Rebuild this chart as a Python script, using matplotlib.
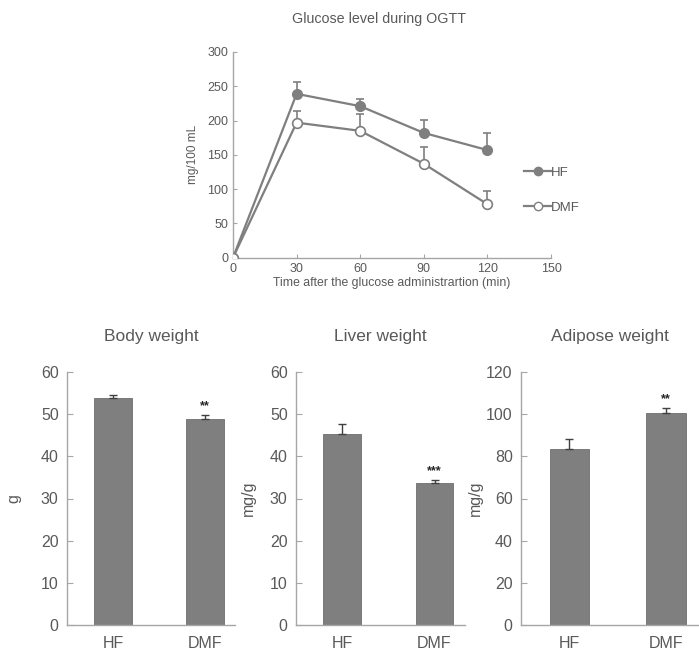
import numpy as np
import matplotlib
matplotlib.use("Agg")
import matplotlib.pyplot as plt
from matplotlib.lines import Line2D

plt.rcParams['font.family'] = ['Liberation Sans', 'DejaVu Sans']

# --- OGTT data ---
time_min = [0, 30, 60, 90, 120]
hf_glucose = [0, 239, 221, 182, 157]
hf_err = [0, 17, 11, 19, 25]
dmf_glucose = [0, 197, 185, 137, 78]
dmf_err = [0, 17, 25, 25, 19]

# --- weight data ---
groups = ["HF", "DMF"]
body_weight = [53.9, 48.8]
body_err = [0.7, 1.1]
liver_weight = [45.2, 33.6]
liver_err = [2.5, 0.8]
adipose_weight = [83.7, 100.4]
adipose_err = [4.6, 2.7]
stars = {"body": "**", "liver": "***", "adipose": "**"}

TXT = '#595959'
AX = '#a6a6a6'
GREY = '#7f7f7f'
W, H = 699, 654


def px_axes(fig, left, top, right, bottom):
    return fig.add_axes([left / W, 1 - bottom / H, (right - left) / W, (bottom - top) / H])


def style(ax):
    for s in ['top', 'right']:
        ax.spines[s].set_visible(False)
    for s in ['left', 'bottom']:
        ax.spines[s].set_color(AX)
        ax.spines[s].set_linewidth(1.0)
    ax.tick_params(colors=AX, labelcolor=TXT, direction='in')


fig = plt.figure(figsize=(W / 100, H / 100), dpi=100)

# ===== OGTT line chart =====
ax = px_axes(fig, 233, 52, 551, 257.7)
style(ax)
ax.errorbar(time_min, hf_glucose, yerr=[np.zeros(5), hf_err], color=GREY, lw=1.6,
            marker='o', ms=7, mfc=GREY, mec=GREY, ecolor=GREY, elinewidth=1.2,
            capsize=3, capthick=1.2, zorder=3)
ax.errorbar(time_min, dmf_glucose, yerr=[np.zeros(5), dmf_err], color=GREY, lw=1.6,
            marker='o', ms=7, mfc='white', mec=GREY, mew=1.2, ecolor=GREY, elinewidth=1.2,
            capsize=3, capthick=1.2, zorder=3)
ax.set_xlim(0, 150)
ax.set_ylim(0, 300)
ax.set_xticks([0, 30, 60, 90, 120, 150])
ax.set_yticks(range(0, 301, 50))
ax.tick_params(axis='both', labelsize=9, length=3)
ax.set_ylabel("mg/100 mL", color=TXT, fontsize=8.5, labelpad=6)
ax.set_xlabel("Time after the glucose administrartion (min)", color=TXT, fontsize=8.8, labelpad=2)
ax.set_title("Glucose level during OGTT", color=TXT, fontsize=10.3, pad=21, x=0.46)

handles = [
    Line2D([], [], color=GREY, lw=1.6, marker='o', ms=6, mfc=GREY, mec=GREY),
    Line2D([], [], color=GREY, lw=1.6, marker='o', ms=6, mfc='white', mec=GREY),
]
leg = ax.legend(handles, ["HF", "DMF"], loc='upper left', bbox_to_anchor=(0.9, 0.47),
                frameon=False, fontsize=9.5, handlelength=2.0, handletextpad=0.0,
                labelspacing=1.75, borderaxespad=0)
for t in leg.get_texts():
    t.set_color(TXT)

# ===== bar charts =====
panels = [
    ("Body weight", "g", body_weight, body_err, stars["body"], 60, 10, (67, 235), 21),
    ("Liver weight", "mg/g", liver_weight, liver_err, stars["liver"], 60, 10, (296, 465), 256),
    ("Adipose weight", "mg/g", adipose_weight, adipose_err, stars["adipose"], 120, 20, (521, 698), 483),
]
for title, ylab, vals, errs, star, ymax, step, (l, r), ylab_x in panels:
    bx = px_axes(fig, l, 372, r, 625)
    style(bx)
    xpos = np.arange(len(groups))
    bx.bar(xpos, vals, width=0.41, color=GREY, edgecolor='#6f6f6f', linewidth=0.6, zorder=2)
    bx.errorbar(xpos, vals, yerr=[np.zeros(2), errs], fmt='none', ecolor='#404040',
                elinewidth=1.0, capsize=3, capthick=1.0, zorder=3)
    bx.text(xpos[1], vals[1] + errs[1] + ymax * 0.01, star, ha='center', va='bottom',
            fontsize=9, color='#262626', fontweight='bold')
    unit = (r - l) / 1.83
    bx.set_xlim(-0.5, (r - l) / unit - 0.5)
    bx.set_ylim(0, ymax)
    bx.set_yticks(np.arange(0, ymax + 1, step))
    bx.set_xticks(xpos)
    bx.set_xticklabels(groups)
    bx.tick_params(axis='x', length=0, labelsize=11.5, pad=8)
    bx.tick_params(axis='y', length=4, labelsize=11.5, pad=6)
    bx.set_ylabel(ylab, color=TXT, fontsize=11.5)
    bx.yaxis.set_label_coords((ylab_x - l) / (r - l), 0.5)
    bx.set_title(title, color=TXT, fontsize=12.5, pad=22)

fig.savefig("out.png", dpi=100)
